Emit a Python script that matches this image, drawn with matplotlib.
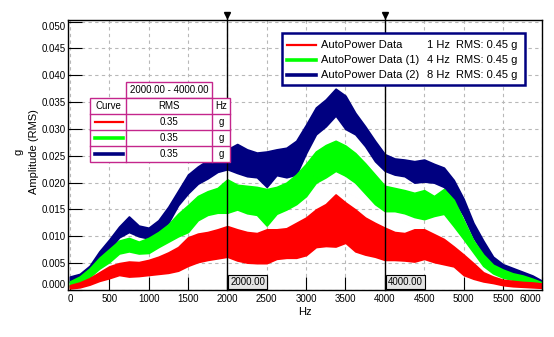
import matplotlib.pyplot as plt
import matplotlib.transforms as mtransforms
from matplotlib.lines import Line2D
from matplotlib.patches import Rectangle

plt.rcParams['font.family'] = ['Liberation Sans', 'DejaVu Sans']

FIG_W, FIG_H = 554, 337

# frequency axis, 125 Hz steps from 0 to 6000 Hz
freq_hz = list(range(0, 6001, 125))

# band of each noisy spectrum (lower / upper edge)
navy_low = [0.0015, 0.0022, 0.0030, 0.0055, 0.0075, 0.0098, 0.0108, 0.0100, 0.0096, 0.0108,
            0.0125, 0.0158, 0.0180, 0.0198, 0.0208, 0.0220, 0.0225, 0.0218, 0.0212, 0.0210,
            0.0192, 0.0214, 0.0210, 0.0215, 0.0255, 0.0290, 0.0305, 0.0325, 0.0300, 0.0290,
            0.0268, 0.0240, 0.0222, 0.0215, 0.0212, 0.0200, 0.0202, 0.0200, 0.0192, 0.0170,
            0.0138, 0.0098, 0.0068, 0.0045, 0.0035, 0.0028, 0.0022, 0.0016, 0.0008]
navy_high = [0.0025, 0.0030, 0.0045, 0.0072, 0.0094, 0.0118, 0.0137, 0.0120, 0.0116, 0.0130,
             0.0155, 0.0185, 0.0215, 0.0230, 0.0242, 0.0256, 0.0262, 0.0272, 0.0262, 0.0256,
             0.0258, 0.0262, 0.0265, 0.0278, 0.0308, 0.0340, 0.0355, 0.0375, 0.0362, 0.0330,
             0.0305, 0.0278, 0.0253, 0.0245, 0.0243, 0.0240, 0.0243, 0.0235, 0.0228, 0.0205,
             0.0170, 0.0125, 0.0092, 0.0062, 0.0048, 0.0041, 0.0034, 0.0027, 0.0017]

green_low = [0.0006, 0.0013, 0.0024, 0.0040, 0.0052, 0.0068, 0.0072, 0.0068, 0.0069, 0.0080,
             0.0090, 0.0100, 0.0108, 0.0130, 0.0140, 0.0144, 0.0144, 0.0150, 0.0143, 0.0140,
             0.0120, 0.0142, 0.0150, 0.0160, 0.0175, 0.0200, 0.0210, 0.0222, 0.0213, 0.0200,
             0.0180, 0.0160, 0.0147, 0.0147, 0.0143, 0.0136, 0.0132, 0.0138, 0.0142, 0.0119,
             0.0095, 0.0070, 0.0045, 0.0031, 0.0023, 0.0019, 0.0015, 0.0011, 0.0005]
green_high = [0.0016, 0.0025, 0.0040, 0.0060, 0.0076, 0.0092, 0.0097, 0.0090, 0.0097, 0.0108,
              0.0122, 0.0142, 0.0158, 0.0175, 0.0184, 0.0190, 0.0206, 0.0196, 0.0194, 0.0192,
              0.0188, 0.0192, 0.0200, 0.0215, 0.0235, 0.0258, 0.0270, 0.0278, 0.0269, 0.0255,
              0.0236, 0.0215, 0.0194, 0.0190, 0.0186, 0.0181, 0.0186, 0.0175, 0.0188, 0.0168,
              0.0130, 0.0092, 0.0066, 0.0047, 0.0038, 0.0031, 0.0027, 0.0021, 0.0014]

red_low = [0.0003, 0.0005, 0.0010, 0.0017, 0.0022, 0.0028, 0.0025, 0.0026, 0.0028, 0.0030,
           0.0032, 0.0036, 0.0045, 0.0052, 0.0056, 0.0059, 0.0062, 0.0055, 0.0051, 0.0050,
           0.0050, 0.0058, 0.0060, 0.0060, 0.0065, 0.0080, 0.0082, 0.0081, 0.0088, 0.0072,
           0.0066, 0.0062, 0.0056, 0.0056, 0.0055, 0.0053, 0.0058, 0.0052, 0.0048, 0.0044,
           0.0028, 0.0021, 0.0016, 0.0013, 0.0009, 0.0007, 0.0006, 0.0005, 0.0004]
red_high = [0.0009, 0.0014, 0.0022, 0.0033, 0.0044, 0.0050, 0.0053, 0.0052, 0.0056, 0.0062,
            0.0070, 0.0080, 0.0098, 0.0105, 0.0108, 0.0113, 0.0119, 0.0113, 0.0108, 0.0106,
            0.0113, 0.0113, 0.0115, 0.0125, 0.0135, 0.0150, 0.0160, 0.0178, 0.0163, 0.0150,
            0.0135, 0.0125, 0.0116, 0.0108, 0.0106, 0.0113, 0.0113, 0.0104, 0.0095, 0.0081,
            0.0066, 0.0050, 0.0033, 0.0025, 0.0019, 0.0017, 0.0015, 0.0014, 0.0012]

series_names = ["AutoPower Data", "AutoPower Data (1)", "AutoPower Data (2)"]
series_res = ["1 Hz", "4 Hz", "8 Hz"]
series_rms = ["RMS: 0.45 g", "RMS: 0.45 g", "RMS: 0.45 g"]
series_colors = ["#ff0000", "#00ff00", "#000080"]
series_widths = [1.6, 2.6, 2.6]

cursor_hz = [2000, 4000]
cursor_labels = ["2000.00", "4000.00"]
band_label = "2000.00 - 4000.00"
table_rms = ["0.35", "0.35", "0.35"]
table_unit = ["g", "g", "g"]

x_ticks = list(range(0, 6001, 500))
y_ticks = [0.000, 0.005, 0.010, 0.015, 0.020, 0.025, 0.030, 0.035, 0.040, 0.045, 0.050]

TABLE_COLOR = "#c4268c"


def fpos(x, y):
    # pixel position (from top-left) -> figure fraction
    return x / FIG_W, 1 - y / FIG_H


fig = plt.figure(figsize=(FIG_W / 100, FIG_H / 100), dpi=100)
ax = fig.add_axes([68.3 / FIG_W, 1 - 290 / FIG_H, 474 / FIG_W, 270 / FIG_H])

bands = [
    (navy_low, navy_high, series_colors[2]),
    (green_low, green_high, series_colors[1]),
    (red_low, red_high, series_colors[0]),
]
for i, (lo, hi, col) in enumerate(bands):
    ax.fill_between(freq_hz, lo, hi, color=col, lw=1.2, edgecolor=col, zorder=2 + i)

ax.set_xlim(-20, 6000)
ax.set_ylim(0, 0.0503)
ax.set_xticks(x_ticks)
ax.set_yticks(y_ticks)
ax.set_yticklabels([f"{v:.3f}" for v in y_ticks])
ax.tick_params(axis="both", direction="in", labelsize=7, colors="black")
ax.tick_params(axis="y", length=10, pad=1.5)
ax.tick_params(axis="x", length=9.5, pad=3)
ax.grid(True, color="#b8b8b8", linestyle=(0, (3, 3)), linewidth=0.8, zorder=1)
ax.set_axisbelow(True)
for sp in ax.spines.values():
    sp.set_linewidth(1.0)
    sp.set_zorder(10)

# nudge end labels inward like the original
ylabels = ax.get_yticklabels()
ylabels[0].set_transform(ylabels[0].get_transform()
                         + mtransforms.ScaledTranslation(0, 6 / 100, fig.dpi_scale_trans))
ylabels[-1].set_transform(ylabels[-1].get_transform()
                          + mtransforms.ScaledTranslation(0, -4 / 100, fig.dpi_scale_trans))
xlabels = ax.get_xticklabels()
xlabels[-1].set_transform(xlabels[-1].get_transform()
                          + mtransforms.ScaledTranslation(-12 / 100, 0, fig.dpi_scale_trans))

ax.set_xlabel("Hz", fontsize=8, labelpad=2)
fig.text(*fpos(19, 152), "g", rotation=90, fontsize=8, ha="center", va="center")
fig.text(*fpos(34, 152), "Amplitude (RMS)", rotation=90, fontsize=8, ha="center", va="center")

# cursors
trans = mtransforms.blended_transform_factory(ax.transData, ax.transAxes)
for hz, lab in zip(cursor_hz, cursor_labels):
    ax.plot([hz, hz], [0, 1.026], color="black", lw=1.0, transform=trans,
            clip_on=False, zorder=6)
    ax.plot([hz], [1.018], marker="v", color="black", markersize=4.5,
            transform=trans, clip_on=False, zorder=6)
    ax.annotate(lab, xy=(hz, 0), xycoords=trans, xytext=(2.2, 2.4),
                textcoords="offset points", ha="left", va="bottom", fontsize=7,
                bbox=dict(boxstyle="square,pad=0.22", fc="#e4e4e4", ec="black", lw=0.8),
                zorder=7)

# legend box (top right)
fig.add_artist(Rectangle(fpos(281.7, 85), (525 - 281.7) / FIG_W, (85 - 33.3) / FIG_H,
                         transform=fig.transFigure, fc="white", ec="#000080", lw=1.8,
                         zorder=20))
for i in range(3):
    y = 45 + 15 * i
    x0, y0 = fpos(286.7, y)
    x1, _ = fpos(315.7, y)
    fig.add_artist(Line2D([x0, x1], [y0, y0], transform=fig.transFigure,
                          color=series_colors[i], lw=series_widths[i], zorder=21))
    fig.text(*fpos(321, y), series_names[i], fontsize=8, ha="left", va="center", zorder=21)
    fig.text(*fpos(450, y), series_res[i], fontsize=8, ha="right", va="center", zorder=21)
    fig.text(*fpos(456, y), series_rms[i], fontsize=8, ha="left", va="center", zorder=21)

# band statistics table
col_x = [90, 126.3, 211.7, 230]
row_y = [98.3, 114.3, 130.3, 146.3, 162.3]
fig.add_artist(Rectangle(fpos(126.3, 98.3), (211.7 - 126.3) / FIG_W, 16.3 / FIG_H,
                         transform=fig.transFigure, fc="white", ec=TABLE_COLOR, lw=1.0,
                         zorder=20))
fig.text(*fpos(169, 90.3), band_label, fontsize=7, ha="center", va="center", zorder=21)
fig.add_artist(Rectangle(fpos(90, 162.3), (230 - 90) / FIG_W, 64 / FIG_H,
                         transform=fig.transFigure, fc="white", ec=TABLE_COLOR, lw=1.0,
                         zorder=20))
for y in row_y[1:-1]:
    xa, ya = fpos(col_x[0], y)
    xb, _ = fpos(col_x[-1], y)
    fig.add_artist(Line2D([xa, xb], [ya, ya], transform=fig.transFigure,
                          color=TABLE_COLOR, lw=1.0, zorder=21))
for x in col_x[1:-1]:
    xa, ya = fpos(x, row_y[0])
    _, yb = fpos(x, row_y[-1])
    fig.add_artist(Line2D([xa, xa], [ya, yb], transform=fig.transFigure,
                          color=TABLE_COLOR, lw=1.0, zorder=21))

fig.text(*fpos(108, 106.3), "Curve", fontsize=7, ha="center", va="center", zorder=22)
fig.text(*fpos(169, 106.3), "RMS", fontsize=7, ha="center", va="center", zorder=22)
fig.text(*fpos(221, 106.3), "Hz", fontsize=7, ha="center", va="center", zorder=22)
for i in range(3):
    yc = 122.3 + 16 * i
    x0, y0 = fpos(94.7, yc)
    x1, _ = fpos(123.3, yc)
    fig.add_artist(Line2D([x0, x1], [y0, y0], transform=fig.transFigure,
                          color=series_colors[i], lw=series_widths[i], zorder=22))
    fig.text(*fpos(169, yc), table_rms[i], fontsize=7, ha="center", va="center", zorder=22)
    fig.text(*fpos(221, yc), table_unit[i], fontsize=7, ha="center", va="center", zorder=22)

fig.savefig("out.png", dpi=100)
